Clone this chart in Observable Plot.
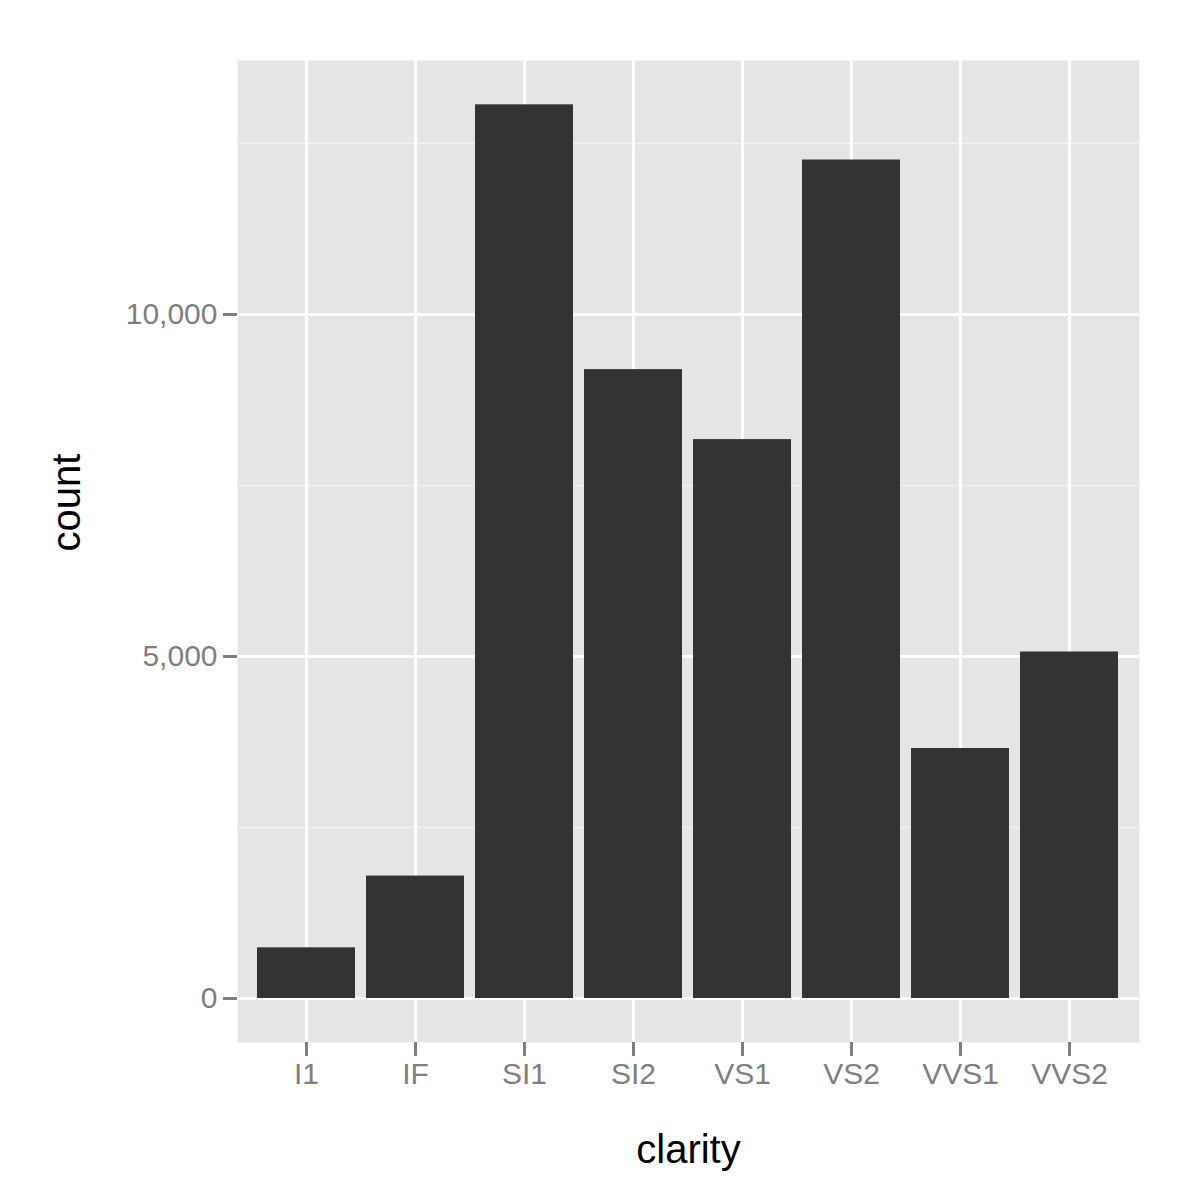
<!DOCTYPE html>
<html><head><meta charset="utf-8">
<script src="https://cdn.jsdelivr.net/npm/d3@7"></script>
<script src="https://cdn.jsdelivr.net/npm/@observablehq/plot@0.6"></script>
<style>body{margin:0;background:#fff}</style>
</head><body><div id="chart"></div>
<script>
const clarity = ["I1", "IF", "SI1", "SI2", "VS1", "VS2", "VVS1", "VVS2"];
const counts = [741, 1790, 13065, 9194, 8171, 12258, 3655, 5066];
const majorTicks = [0, 5000, 10000];
const minorTicks = [2500, 7500, 12500];

const data = clarity.map((c, i) => ({clarity: c, count: counts[i]}));

const chart = Plot.plot({
  width: 1200, height: 1200,
  marginLeft: 237, marginRight: 61, marginTop: 60, marginBottom: 158,
  style: {fontFamily: "Liberation Sans, Arial, sans-serif", background: "#fff"},
  x: {domain: clarity, paddingInner: 0.1, paddingOuter: 0.15, axis: null},
  y: {domain: [-643, 13713], axis: null},
  marks: [
    Plot.frame({fill: "#E5E5E5", stroke: null}),
    Plot.ruleY(minorTicks, {stroke: "#F2F2F2", strokeWidth: 1.5}),
    Plot.ruleY(majorTicks, {stroke: "#fff", strokeWidth: 3}),
    Plot.ruleX(clarity, {x: d => d, stroke: "#fff", strokeWidth: 3}),
    Plot.barY(data, {x: "clarity", y: "count", fill: "#333333"}),
    Plot.axisY(majorTicks, {tickSize: 14, tickPadding: 6, stroke: "#7f7f7f", strokeWidth: 3, fill: "#7f7f7f", fontSize: 30, label: null}),
    Plot.axisX(clarity, {tickSize: 14, tickPadding: 6, stroke: "#7f7f7f", strokeWidth: 3, fill: "#7f7f7f", fontSize: 30, label: null}),
    Plot.text(["clarity"], {frameAnchor: "bottom", dy: 120, fontSize: 40, fill: "#000", lineAnchor: "bottom"}),
    Plot.text(["count"], {frameAnchor: "left", dx: -170, rotate: -90, fontSize: 40, fill: "#000"})
  ]
});
document.getElementById("chart").append(chart);
</script>
</body></html>
